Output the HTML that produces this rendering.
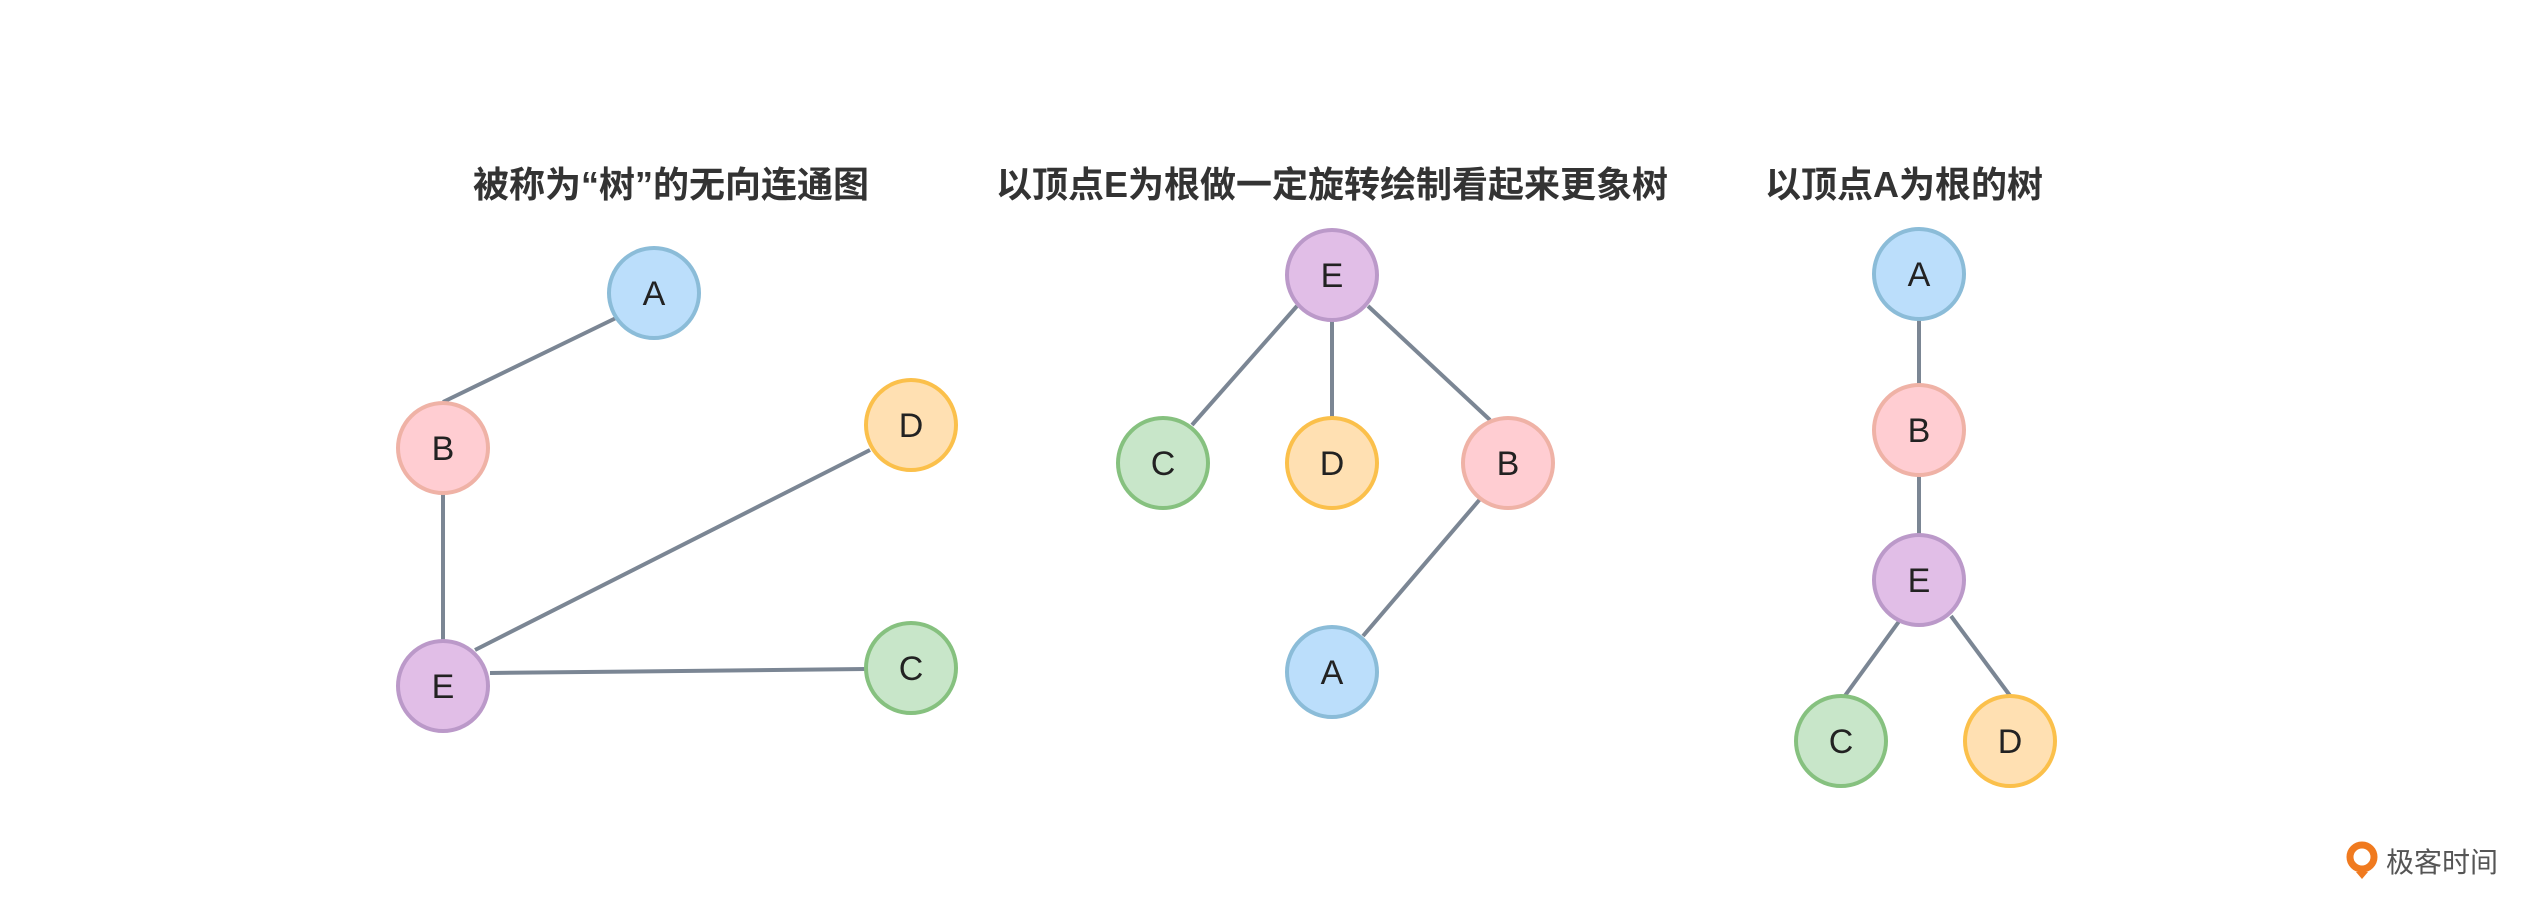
<!DOCTYPE html>
<html><head><meta charset="utf-8"><style>
html,body{margin:0;padding:0;background:#fff;}
svg{display:block;}
.t{font-family:"Liberation Sans","Noto Sans CJK SC",sans-serif;font-weight:bold;font-size:36px;fill:#333;}
.n{font-family:"Liberation Sans",sans-serif;font-size:34px;fill:#222;}
</style></head><body>
<svg width="2542" height="907" viewBox="0 0 2542 907" xmlns="http://www.w3.org/2000/svg">
<text class="t" x="671" y="197" text-anchor="middle">被称为“树”的无向连通图</text>
<text class="t" x="1332" y="197" text-anchor="middle">以顶点E为根做一定旋转绘制看起来更象树</text>
<text class="t" x="1765" y="197">以顶点A为根的树</text>
<g stroke="#7b8694" stroke-width="4" fill="none">
<line x1="616" y1="318" x2="443" y2="402"/>
<line x1="443" y1="494" x2="443" y2="640"/>
<line x1="475" y1="650" x2="870" y2="450"/>
<line x1="490" y1="673" x2="866" y2="669"/>
<line x1="1297" y1="306" x2="1192" y2="425"/>
<line x1="1332" y1="321" x2="1332" y2="417"/>
<line x1="1368" y1="306" x2="1490" y2="420"/>
<line x1="1481" y1="498" x2="1363" y2="636"/>
<line x1="1919" y1="320" x2="1919" y2="384"/>
<line x1="1919" y1="476" x2="1919" y2="534"/>
<line x1="1900" y1="620" x2="1844" y2="697"/>
<line x1="1951" y1="616" x2="2011" y2="697"/>
</g>
<g stroke-width="4">
<circle cx="654" cy="293" r="45" fill="#bbdefb" stroke="#8bbcd8"/>
<circle cx="443" cy="448" r="45" fill="#ffcdd2" stroke="#efb2a6"/>
<circle cx="443" cy="686" r="45" fill="#e1bee7" stroke="#bb99c9"/>
<circle cx="911" cy="425" r="45" fill="#ffe0b2" stroke="#fbc04b"/>
<circle cx="911" cy="668" r="45" fill="#c8e6c9" stroke="#86c17f"/>
<circle cx="1332" cy="275" r="45" fill="#e1bee7" stroke="#bb99c9"/>
<circle cx="1163" cy="463" r="45" fill="#c8e6c9" stroke="#86c17f"/>
<circle cx="1332" cy="463" r="45" fill="#ffe0b2" stroke="#fbc04b"/>
<circle cx="1508" cy="463" r="45" fill="#ffcdd2" stroke="#efb2a6"/>
<circle cx="1332" cy="672" r="45" fill="#bbdefb" stroke="#8bbcd8"/>
<circle cx="1919" cy="274" r="45" fill="#bbdefb" stroke="#8bbcd8"/>
<circle cx="1919" cy="430" r="45" fill="#ffcdd2" stroke="#efb2a6"/>
<circle cx="1919" cy="580" r="45" fill="#e1bee7" stroke="#bb99c9"/>
<circle cx="1841" cy="741" r="45" fill="#c8e6c9" stroke="#86c17f"/>
<circle cx="2010" cy="741" r="45" fill="#ffe0b2" stroke="#fbc04b"/>
</g>
<g class="n" text-anchor="middle">
<text x="654" y="305">A</text>
<text x="443" y="460">B</text>
<text x="443" y="698">E</text>
<text x="911" y="437">D</text>
<text x="911" y="680">C</text>
<text x="1332" y="287">E</text>
<text x="1163" y="475">C</text>
<text x="1332" y="475">D</text>
<text x="1508" y="475">B</text>
<text x="1332" y="684">A</text>
<text x="1919" y="286">A</text>
<text x="1919" y="442">B</text>
<text x="1919" y="592">E</text>
<text x="1841" y="753">C</text>
<text x="2010" y="753">D</text>
</g>
<circle cx="2362" cy="857" r="12" fill="none" stroke="#f07a1f" stroke-width="7"/>
<path d="M2356 872 L2362 879 L2368 872 Z" fill="#f07a1f"/>
<text x="2386" y="872" font-family="'Liberation Sans','Noto Sans CJK SC',sans-serif" font-size="28" fill="#555">极客时间</text>
</svg>
</body></html>
